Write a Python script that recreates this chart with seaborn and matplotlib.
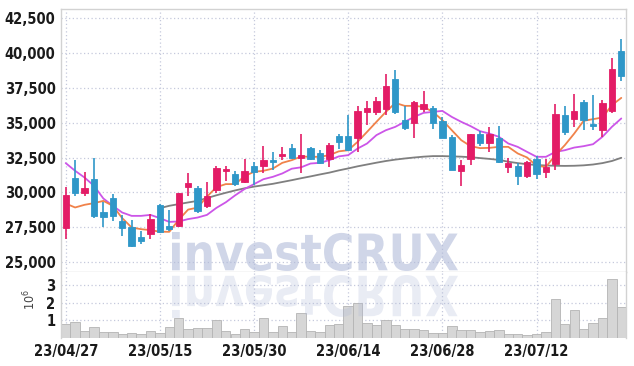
import numpy as np
import pandas as pd
import matplotlib
matplotlib.use("Agg")
import matplotlib.pyplot as plt
from matplotlib.patches import PathPatch
from matplotlib.textpath import TextPath
from matplotlib.font_manager import FontProperties, fontManager
from matplotlib.transforms import Affine2D
from matplotlib.ticker import FixedLocator, FuncFormatter
import seaborn as sns

dates = ["23/04/27", "23/04/28", "23/05/02", "23/05/03", "23/05/04", "23/05/08", "23/05/09",
         "23/05/10", "23/05/11", "23/05/12", "23/05/15", "23/05/16", "23/05/17", "23/05/18",
         "23/05/19", "23/05/22", "23/05/23", "23/05/24", "23/05/25", "23/05/26", "23/05/30",
         "23/05/31", "23/06/01", "23/06/02", "23/06/05", "23/06/07", "23/06/08", "23/06/09",
         "23/06/12", "23/06/13", "23/06/14", "23/06/15", "23/06/16", "23/06/19", "23/06/20",
         "23/06/21", "23/06/22", "23/06/23", "23/06/26", "23/06/27", "23/06/28", "23/06/29",
         "23/06/30", "23/07/03", "23/07/04", "23/07/05", "23/07/06", "23/07/07", "23/07/10",
         "23/07/11", "23/07/12", "23/07/13", "23/07/14", "23/07/17", "23/07/18", "23/07/19",
         "23/07/20", "23/07/21", "23/07/24", "23/07/25"]

opens = [27450, 31070, 29980, 30980, 28620, 29620, 27980, 27560, 26790, 27020,
         29120, 27620, 27620, 30360, 30290, 29040, 30170, 31550, 31310, 30760,
         31880, 31880, 32310, 32620, 33210, 32430, 33210, 32790, 32360, 34020,
         34020, 33900, 35760, 35760, 36000, 38140, 35190, 34930, 35950, 36070,
         35120, 33930, 31550, 32400, 34210, 33550, 33900, 31830, 31900, 31190,
         32360, 31480, 32020, 35520, 35240, 36480, 34860, 34500, 35830, 40120]
highs = [30400, 32310, 31430, 32450, 29290, 29880, 28380, 28040, 27260, 28450,
         29210, 28760, 29950, 31360, 30480, 30730, 31880, 31880, 31520, 32360,
         32190, 33330, 32860, 33260, 33500, 34210, 33260, 33020, 33550, 34170,
         35520, 36190, 36550, 36790, 38500, 38740, 36170, 36550, 37260, 36190,
         35400, 34100, 32310, 34210, 34400, 34690, 34740, 32500, 32120, 32260,
         32600, 32360, 36310, 36170, 37070, 36600, 36950, 36640, 39640, 41000]
lows = [26670, 29760, 29760, 28210, 27500, 27980, 26900, 26130, 26310, 26670,
        27120, 27260, 27550, 29760, 28570, 28900, 29950, 30830, 30450, 30690,
        30540, 31360, 31600, 32310, 32360, 31360, 32310, 32070, 31830, 33140,
        32980, 32900, 34810, 35520, 35520, 35640, 34500, 33860, 35760, 34570,
        33860, 31600, 30450, 31950, 33310, 32900, 32120, 31360, 30570, 31070,
        31000, 31070, 31640, 34100, 34690, 34500, 34500, 33980, 35690, 37980]
closes = [29830, 29930, 30330, 28330, 28260, 28330, 27430, 26180, 26550, 28120,
          27210, 27380, 29930, 30710, 28690, 29770, 31760, 31690, 30640, 31520,
          31430, 32310, 32190, 32740, 32500, 32710, 32380, 32140, 33380, 33620,
          33020, 35810, 36070, 36520, 37600, 35760, 34620, 36450, 36310, 34980,
          33900, 31640, 32000, 34170, 33550, 34170, 32190, 32120, 31190, 32190,
          31310, 31830, 35640, 34330, 35830, 35170, 34740, 36400, 38810, 38330]
volumes = [790000, 920000, 420000, 640000, 360000, 360000, 230000, 300000, 250000, 400000,
           300000, 640000, 1130000, 510000, 570000, 570000, 1020000, 400000, 250000, 510000,
           360000, 1130000, 360000, 680000, 360000, 1420000, 400000, 360000, 750000, 790000,
           1830000, 1980000, 850000, 750000, 1020000, 750000, 510000, 510000, 450000, 300000,
           300000, 680000, 450000, 450000, 360000, 400000, 450000, 250000, 250000, 170000,
           230000, 360000, 2210000, 790000, 1580000, 510000, 850000, 1130000, 3340000, 1770000]

ma5 = [29210, 28930, 29120, 29240, 29400, 29050, 28170, 27500, 27380, 27310,
       27200, 27190, 28050, 28780, 28920, 29700, 30380, 30600, 30600, 31170,
       31480, 31550, 31710, 32120, 32310, 32570, 32550, 32550, 32670, 32940,
       33020, 33620, 34330, 35050, 35760, 36400, 36190, 36190, 36120, 35760,
       35170, 34450, 33740, 33310, 33170, 33190, 33260, 33260, 32790, 32500,
       31900, 31830, 32670, 33380, 34210, 35120, 35240, 35360, 36240, 36760]
ma20 = [32100, 31550, 31070, 30480, 29570, 29050, 28570, 28330, 28330, 28400,
        28170, 27900, 27930, 28100, 28210, 28400, 28900, 29300, 29800, 30250,
        30600, 30950, 31120, 31360, 31700, 31800, 32070, 32120, 32310, 32580,
        32670, 33140, 33500, 34100, 34450, 34690, 35050, 35400, 35690, 35760,
        35830, 35400, 35050, 34740, 34380, 34210, 33980, 33500, 33260, 32900,
        32550, 32550, 32900, 33020, 33210, 33310, 33450, 33980, 34690, 35290]
ma60 = [np.nan] * 10 + [
        28880, 29050, 29170, 29290, 29400, 29600, 29800, 29980, 30150, 30300,
        30420, 30520, 30620, 30750, 30880, 31020, 31150, 31290, 31420, 31580,
        31720, 31870, 32000, 32130, 32250, 32350, 32430, 32500, 32560, 32600,
        32600, 32580, 32560, 32520, 32460, 32400, 32330, 32200, 32100, 32020,
        31960, 31930, 31910, 31900, 31910, 31940, 32000, 32100, 32250, 32480]

UP = "#e31c66"
DOWN = "#2f97c8"

sns.set_theme(style="white")

# narrow face for the tick labels if there is one
names = {f.name for f in fontManager.ttflist}
tick_font = "Liberation Sans Narrow" if "Liberation Sans Narrow" in names else "DejaVu Sans"
plt.rcParams["font.family"] = [tick_font, "DejaVu Sans"]
plt.rcParams["font.stretch"] = "condensed"

df = pd.DataFrame({"i": np.arange(len(dates)), "open": opens, "high": highs,
                   "low": lows, "close": closes, "vol": np.array(volumes) / 1e6,
                   "ma5": ma5, "ma20": ma20, "ma60": ma60})

fig = plt.figure(figsize=(6.34, 3.66), dpi=100)
ax = fig.add_axes([61 / 634, 1 - 272 / 366, 565 / 634, 263 / 366])
axv = fig.add_axes([61 / 634, 1 - 338 / 366, 565 / 634, 66 / 366], sharex=ax)

# candles
up = df["close"] >= df["open"]
colors = np.where(up, UP, DOWN)
ax.vlines(df["i"], df["low"], df["high"], colors=colors, linewidth=1.2, zorder=3)
body_lo = np.minimum(df["open"], df["close"])
body_h = np.maximum(np.abs(df["close"] - df["open"]), 70)
ax.bar(df["i"], body_h, bottom=body_lo, width=0.68, color=colors,
       edgecolor=colors, linewidth=0.6, zorder=4)

# moving averages
sns.lineplot(data=df, x="i", y="ma60", ax=ax, color="#7f7f7f", linewidth=1.3, zorder=2)
sns.lineplot(data=df, x="i", y="ma20", ax=ax, color="#cc55e8", linewidth=1.3, zorder=2)
sns.lineplot(data=df, x="i", y="ma5", ax=ax, color="#f0824a", linewidth=1.3, zorder=2)

# volume
sns.barplot(data=df, x="i", y="vol", ax=axv, native_scale=True, width=1.0,
            color="#d6d6d6", edgecolor="#b4b4b4", linewidth=0.6, saturation=1)

ax.set_xlim(-0.5, len(dates) - 0.5)
ax.set_ylim(24320, 43110)
axv.set_ylim(0, 3.73)

grid_kw = dict(color="#c5c9dc", linestyle=(0, (1, 2)), linewidth=0.9)
for a in (ax, axv):
    a.set_xlabel("")
    a.set_ylabel("")
    a.grid(True, **grid_kw)
    a.set_axisbelow(True)
    a.tick_params(length=0, labelsize=10.5, colors="#1a1a1a", pad=4)
    for lab in a.get_xticklabels() + a.get_yticklabels():
        lab.set_fontweight("bold")
    for s in a.spines.values():
        s.set_color("#d2d2d2")
        s.set_linewidth(1.0)

ax.yaxis.set_major_locator(FixedLocator(np.arange(25000, 42501, 2500)))
ax.yaxis.set_major_formatter(FuncFormatter(lambda v, p: f"{v:,.0f}"))
ax.tick_params(labelbottom=False)

xt = list(range(0, len(dates), 10))
axv.xaxis.set_major_locator(FixedLocator(xt))
axv.set_xticklabels([dates[k] for k in xt], fontweight="bold")
axv.yaxis.set_major_locator(FixedLocator([1, 2, 3]))
axv.yaxis.set_major_formatter(FuncFormatter(lambda v, p: f"{v:.0f}"))
axv.spines["bottom"].set_visible(False)
axv.spines["top"].set_visible(False)
for lab in ax.get_yticklabels() + axv.get_yticklabels():
    lab.set_fontweight("bold")

fig.text(30 / 634, 1 - 300 / 366, r"$10^6$", rotation=90, ha="center", va="center",
         fontsize=9, color="#444444", family="DejaVu Sans")

# watermark with its mirror image
fp = FontProperties(family="DejaVu Sans", weight="bold")
tp = TextPath((0, 0), "investCRUX", size=100, prop=fp)
ext = tp.get_extents()
sx, sy = 286 / ext.width, 39 / ext.height
px = Affine2D().scale(1 / 100) + fig.dpi_scale_trans
t_main = Affine2D().translate(-ext.x0, -ext.y0).scale(sx, sy).translate(172, 366 - 271) + px
t_ref = Affine2D().translate(-ext.x0, -ext.y0).scale(sx, -sy * 1.1).translate(172, 366 - 275) + px
fig.add_artist(PathPatch(tp, transform=t_main, facecolor="#b1bbd9", edgecolor="none",
                         alpha=0.6, zorder=5))
fig.add_artist(PathPatch(tp, transform=t_ref, facecolor="#b1bbd9", edgecolor="none",
                         alpha=0.28, zorder=5))

fig.savefig("out.png", dpi=100)
